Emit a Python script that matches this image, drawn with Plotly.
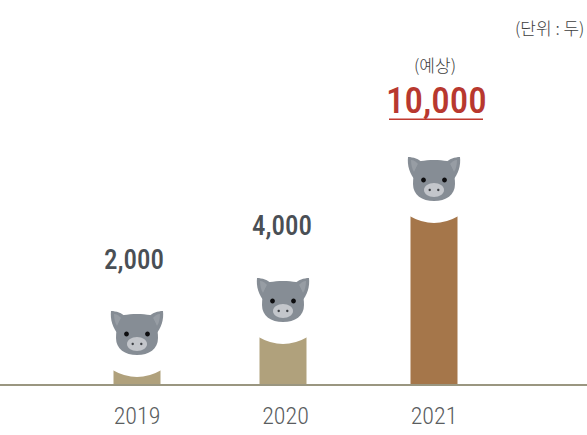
import plotly.graph_objects as go

years = ['2019', '2020', '2021']
values = [2000, 4000, 10000]
# picture is not to scale, these are the drawn heights of the columns
drawn_heights = [14, 47, 168]
bar_colors = ['#b0a17c', '#b0a17c', '#a5764a']
label_colors = ['#4a4f55', '#4a4f55', '#b8382f']
label_sizes = [27, 27, 37]
label_shifts = [-3, -1, 2]

FONT = 'Roboto Condensed, Roboto, sans-serif'
KFONT = 'Noto Sans CJK KR, sans-serif'
BAR_W = 47
STEP = 148.5
HALF = BAR_W / 2 / STEP


def ellipse(cx, cy, rx, ry):
    k = 0.5523
    return (f'M {cx - rx} {cy} '
            f'C {cx - rx} {cy + k * ry} {cx - k * rx} {cy + ry} {cx} {cy + ry} '
            f'C {cx + k * rx} {cy + ry} {cx + rx} {cy + k * ry} {cx + rx} {cy} '
            f'C {cx + rx} {cy - k * ry} {cx + k * rx} {cy - ry} {cx} {cy - ry} '
            f'C {cx - k * rx} {cy - ry} {cx - rx} {cy - k * ry} {cx - rx} {cy} Z')


def pig_parts():
    # pixel offsets from the middle of the column top, y goes up
    head = ('M -13 55 C -6 56.5 6 56.5 13 55 C 18 51 21 42 21 32 '
            'C 21 21 12 15 0 15 C -12 15 -21 21 -21 32 C -21 42 -18 51 -13 55 Z')
    left_ear = 'M -26 59 C -21 59 -15 57 -11 53 L -19 36 C -24 42 -27 50 -26 59 Z'
    right_ear = 'M 26 59 C 21 59 15 57 11 53 L 19 36 C 24 42 27 50 26 59 Z'
    left_in = 'M -23 56 C -20 56 -18 54 -16 52 L -20 44 C -22 47 -23 52 -23 56 Z'
    right_in = 'M 23 56 C 20 56 18 54 16 52 L 20 44 C 22 47 23 52 23 56 Z'
    return [
        (left_ear, '#868d95'), (right_ear, '#868d95'),
        (left_in, '#979da4'), (right_in, '#979da4'),
        (head, '#868d95'),
        (ellipse(-10.5, 36, 2.4, 2.4), '#0d0d0f'), (ellipse(10.5, 36, 2.4, 2.4), '#0d0d0f'),
        (ellipse(0, 26, 10, 7), '#c3c6cb'),
        (ellipse(-4.3, 26, 1.2, 1.2), '#3c3f44'), (ellipse(4.3, 26, 1.2, 1.2), '#3c3f44'),
    ]


fig = go.Figure()
fig.add_trace(go.Bar(
    x=years,
    y=drawn_heights,
    width=BAR_W / STEP,
    offset=[-HALF, -HALF - 2.5 / STEP, -HALF],
    marker=dict(color=bar_colors, line=dict(width=0)),
    hoverinfo='skip',
))

shapes = []
annotations = []
for i, year in enumerate(years):
    cx = i - 2.5 / STEP if i == 1 else i
    top = drawn_heights[i]
    # white bite out of the column top
    r = BAR_W / 2 + 1
    shapes.append(dict(
        type='path', xref='x', yref='y', xsizemode='pixel', ysizemode='pixel',
        xanchor=cx, yanchor=top, layer='above',
        path=f'M {-r} 0 Q 0 -14 {r} 0 L {r} 8 L {-r} 8 Z',
        fillcolor='white', line=dict(width=0),
    ))
    for path, color in pig_parts():
        shapes.append(dict(
            type='path', xref='x', yref='y', xsizemode='pixel', ysizemode='pixel',
            xanchor=cx, yanchor=top, layer='above',
            path=path, fillcolor=color, line=dict(width=0),
        ))
    annotations.append(dict(
        x=cx, y=top, xref='x', yref='y', text=f'{values[i]:,}', showarrow=False,
        xshift=label_shifts[i], yshift=[110, 111, 116][i],
        font=dict(family=FONT, size=label_sizes[i], color=label_colors[i], weight=500),
    ))

# red underline and note over the forecast value
shapes.append(dict(
    type='path', xref='x', yref='y', xsizemode='pixel', ysizemode='pixel',
    xanchor=2, yanchor=drawn_heights[2], layer='above',
    path='M -45 96 L 49 96 L 49 97.5 L -45 97.5 Z',
    fillcolor='#c0392f', line=dict(width=0),
))
annotations.append(dict(
    x=2, y=drawn_heights[2], xref='x', yref='y', text='(예상)', showarrow=False,
    xshift=1, yshift=152, font=dict(family=KFONT, size=17, color='#3d3d3d', weight=300),
))
annotations.append(dict(
    x=1, y=1, xref='paper', yref='paper', xanchor='right', yanchor='middle',
    text='(단위 : 두)', showarrow=False, xshift=-1, yshift=-27,
    font=dict(family=KFONT, size=17, color='#3d3d3d', weight=300),
))

fig.update_layout(
    width=587,
    height=435,
    margin=dict(l=0, r=0, t=0, b=51),
    paper_bgcolor='white',
    plot_bgcolor='white',
    showlegend=False,
    shapes=shapes,
    annotations=annotations,
    xaxis=dict(
        type='category',
        categoryorder='array',
        categoryarray=years,
        range=[-137 / STEP, 450 / STEP],
        showgrid=False,
        showline=True,
        linecolor='#9a9680',
        linewidth=1.5,
        ticks='outside',
        ticklen=9,
        tickcolor='white',
        tickfont=dict(family=FONT, size=24, color='#5a5d60', weight=300),
        fixedrange=True,
    ),
    yaxis=dict(range=[0, 384], visible=False, fixedrange=True),
)

# the page's default body margin would push the chart off the window
fig.write_html('out.html', config=dict(displayModeBar=False),
               post_script="document.body.style.margin='0';")
